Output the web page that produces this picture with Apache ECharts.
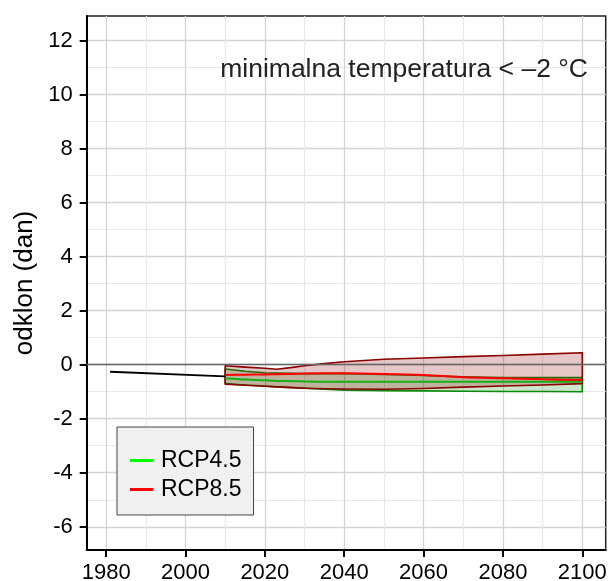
<!DOCTYPE html>
<html><head><meta charset="utf-8">
<script src="https://cdn.jsdelivr.net/npm/echarts@6/dist/echarts.min.js"></script>
<style>html,body{margin:0;padding:0;background:#fff}#c{width:611px;height:581px}</style>
</head><body><div id="c"></div>
<script>
const xMajorTicks = [1980, 2000, 2020, 2040, 2060, 2080, 2100];
const xMinorTicks = [1990, 2010, 2030, 2050, 2070, 2090];
const yMajorTicks = [-6, -4, -2, 0, 2, 4, 6, 8, 10, 12];
const yMinorTicks = [-5, -3, -1, 1, 3, 5, 7, 9, 11];

const histYears = [1981, 2010];
const histValues = [-0.26, -0.43];

const projYears = [2010, 2015, 2020, 2023, 2027, 2030, 2035, 2040, 2050, 2060, 2070, 2080, 2090, 2100];
const rcp85Upper = [-0.04, -0.09, -0.13, -0.17, -0.10, -0.04, 0.04, 0.11, 0.20, 0.25, 0.30, 0.34, 0.39, 0.44];
const rcp85Mean  = [-0.38, -0.37, -0.36, -0.35, -0.34, -0.33, -0.32, -0.32, -0.34, -0.38, -0.46, -0.50, -0.54, -0.57];
const rcp85Lower = [-0.72, -0.76, -0.80, -0.82, -0.85, -0.87, -0.89, -0.90, -0.91, -0.88, -0.83, -0.79, -0.75, -0.70];
const rcp45Upper = [-0.16, -0.24, -0.30, -0.31, -0.32, -0.33, -0.33, -0.33, -0.36, -0.40, -0.45, -0.48, -0.48, -0.48];
const rcp45Mean  = [-0.50, -0.55, -0.58, -0.60, -0.61, -0.62, -0.63, -0.63, -0.63, -0.63, -0.63, -0.63, -0.63, -0.63];
const rcp45Lower = [-0.70, -0.75, -0.79, -0.82, -0.85, -0.87, -0.91, -0.94, -0.96, -0.97, -0.98, -0.99, -0.99, -1.00];

const titleText = 'minimalna temperatura < \u20132 \u00b0C';
const yName = 'odklon (dan)';
const legendNames = ['RCP4.5', 'RCP8.5'];

const FONT = 'Liberation Sans';
const X_MIN = 1975.1, X_MAX = 2105.9, Y_MIN = -6.86, Y_MAX = 12.91;

function pairs(xs, ys) { return xs.map((x, i) => [x, ys[i]]); }

function band(lower, upper, fill, stroke) {
  return {
    type: 'custom', silent: true, z: 3,
    xAxisIndex: 0, yAxisIndex: 0,
    data: [[2050, 0]],
    renderItem: function (params, api) {
      const pts = [];
      for (let i = 0; i < projYears.length; i++) pts.push(api.coord([projYears[i], upper[i]]));
      for (let i = projYears.length - 1; i >= 0; i--) pts.push(api.coord([projYears[i], lower[i]]));
      return { type: 'polygon', shape: { points: pts }, style: { fill: fill, stroke: stroke, lineWidth: 1.6, lineJoin: 'round' } };
    }
  };
}

const chart = echarts.init(document.getElementById('c'), null, { renderer: 'canvas' });
const axisLabelStyle = { color: '#000', fontFamily: FONT, fontSize: 22, formatter: (v) => String(v) };

chart.setOption({
  animation: false,
  backgroundColor: '#fff',
  textStyle: { fontFamily: FONT },
  title: {
    text: titleText, right: 18, top: 51,
    textStyle: { fontFamily: FONT, fontSize: 26.5, fontWeight: 'normal', color: '#222' }
  },
  grid: { left: 86.7, right: 5.3, top: 16, bottom: 31, outerBoundsMode: 'none', containLabel: false, show: true, borderColor: '#222', borderWidth: 1.5, backgroundColor: 'transparent' },
  legend: {
    orient: 'vertical', left: 117, top: 427,
    backgroundColor: '#f0f0f0', borderColor: '#444', borderWidth: 1, borderRadius: 0,
    padding: [22, 12, 14, 13], itemGap: 6,
    itemWidth: 23, itemHeight: 3, icon: 'rect',
    textStyle: { fontFamily: FONT, fontSize: 23, color: '#000', padding: [0, 0, 0, 3] },
    data: [
      { name: legendNames[0], itemStyle: { color: '#00ff00' } },
      { name: legendNames[1], itemStyle: { color: '#ff0000' } }
    ]
  },
  xAxis: [
    {
      type: 'value', min: X_MIN, max: X_MAX, position: 'bottom',
      axisLine: { show: true, onZero: false, lineStyle: { color: '#000', width: 2 } },
      axisTick: { show: true, length: 7, customValues: xMajorTicks, lineStyle: { color: '#000', width: 2 } },
      axisLabel: { customValues: xMajorTicks, margin: 12, ...axisLabelStyle },
      splitLine: { show: true, lineStyle: { color: '#d4d4d4', width: 1.3 } }
    },
    {
      type: 'value', min: X_MIN, max: X_MAX, position: 'bottom', gridIndex: 0,
      axisLine: { show: false }, axisTick: { show: false, customValues: xMinorTicks },
      axisLabel: { show: false, customValues: xMinorTicks },
      splitLine: { show: true, lineStyle: { color: '#e8e8e8', width: 1.2 } }
    }
  ],
  yAxis: [
    {
      type: 'value', min: Y_MIN, max: Y_MAX,
      name: yName, nameLocation: 'middle', nameGap: 40, nameRotate: 90,
      nameTextStyle: { fontFamily: FONT, fontSize: 26, color: '#000' },
      axisLine: { show: true, onZero: false, lineStyle: { color: '#000', width: 2 } },
      axisTick: { show: true, length: 7, customValues: yMajorTicks, lineStyle: { color: '#000', width: 2 } },
      axisLabel: { customValues: yMajorTicks, margin: 14, ...axisLabelStyle },
      splitLine: { show: true, lineStyle: { color: '#d4d4d4', width: 1.3 } }
    },
    {
      type: 'value', min: Y_MIN, max: Y_MAX, gridIndex: 0,
      axisLine: { show: false }, axisTick: { show: false, customValues: yMinorTicks },
      axisLabel: { show: false, customValues: yMinorTicks },
      splitLine: { show: true, lineStyle: { color: '#e8e8e8', width: 1.2 } }
    }
  ],
  series: [
    {
      type: 'line', name: 'hist', data: pairs(histYears, histValues), showSymbol: false, symbol: 'none',
      lineStyle: { color: '#000', width: 1.8 }, z: 5, silent: true,
      markLine: {
        silent: true, symbol: 'none', label: { show: false },
        lineStyle: { color: '#666', width: 1.4, type: 'solid' },
        data: [{ yAxis: 0 }]
      }
    },
    band(rcp45Lower, rcp45Upper, 'rgba(0,128,0,0.2)', '#0a8a0a'),
    band(rcp85Lower, rcp85Upper, 'rgba(139,0,0,0.22)', '#8b0000'),
    {
      type: 'line', name: legendNames[0], data: pairs(projYears, rcp45Mean), showSymbol: false, symbol: 'none', smooth: 0.3,
      lineStyle: { color: '#14b014', width: 2 }, itemStyle: { color: '#00ff00' }, z: 6, silent: true
    },
    {
      type: 'line', name: legendNames[1], data: pairs(projYears, rcp85Mean), showSymbol: false, symbol: 'none', smooth: 0.3,
      lineStyle: { color: '#ff0000', width: 2 }, itemStyle: { color: '#ff0000' }, z: 7, silent: true
    }
  ]
});
</script>
</body></html>
